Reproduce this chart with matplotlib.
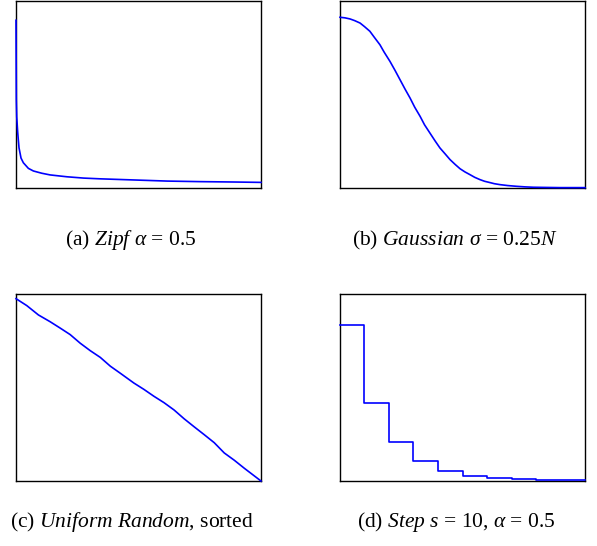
import matplotlib
matplotlib.use('Agg')
import matplotlib.pyplot as plt

plt.rcParams['font.family'] = ['Liberation Serif', 'DejaVu Serif']
plt.rcParams['mathtext.fontset'] = 'custom'
plt.rcParams['mathtext.rm'] = 'Liberation Serif'
plt.rcParams['mathtext.it'] = 'Liberation Serif:italic'

# values, both axes scaled to 0..1
zipf_x = [0, 0.0014, 0.003, 0.0068, 0.0095, 0.0123, 0.016, 0.0205, 0.030,
          0.0505, 0.071, 0.105, 0.139, 0.18, 0.208, 0.276, 0.344, 0.481,
          0.617, 0.754, 0.891, 1.0]
zipf_y = [0.897, 0.472, 0.38, 0.30, 0.257, 0.215, 0.19, 0.16, 0.135,
          0.105, 0.091, 0.079, 0.070, 0.064, 0.060, 0.053, 0.049, 0.043,
          0.037, 0.034, 0.032, 0.030]

gauss_x = [0, 0.02, 0.041, 0.06, 0.082, 0.10, 0.122, 0.14, 0.163, 0.18,
           0.204, 0.225, 0.245, 0.265, 0.286, 0.305, 0.327, 0.345, 0.367,
           0.388, 0.408, 0.43, 0.449, 0.47, 0.490, 0.51, 0.531, 0.55, 0.571,
           0.59, 0.612, 0.63, 0.653, 0.685, 0.721, 0.755, 0.789, 0.84, 0.898,
           1.0]
gauss_y = [0.913, 0.910, 0.904, 0.895, 0.882, 0.863, 0.838, 0.806, 0.766,
           0.727, 0.677, 0.628, 0.579, 0.530, 0.481, 0.432, 0.383, 0.338,
           0.294, 0.252, 0.214, 0.181, 0.152, 0.126, 0.103, 0.086, 0.071,
           0.057, 0.045, 0.036, 0.029, 0.023, 0.018, 0.013, 0.009, 0.006,
           0.004, 0.003, 0.002, 0.002]

unif_x = [0, 0.044, 0.0915, 0.139, 0.180, 0.221, 0.262, 0.303, 0.344, 0.385,
          0.426, 0.481, 0.522, 0.563, 0.604, 0.645, 0.686, 0.727, 0.768,
          0.809, 0.850, 0.891, 0.932, 1.0]
unif_y = [0.975, 0.938, 0.888, 0.852, 0.818, 0.783, 0.737, 0.697, 0.661,
          0.614, 0.576, 0.524, 0.490, 0.453, 0.419, 0.380, 0.333, 0.290,
          0.248, 0.205, 0.150, 0.111, 0.068, 0.0]

step_x = [0, 0.1, 0.2, 0.3, 0.4, 0.5, 0.6, 0.7, 0.8, 0.9, 1.0]
step_y = [0.834, 0.419, 0.210, 0.105, 0.055, 0.028, 0.014, 0.009, 0.005,
          0.004, 0.004]

captions = [r'(a) $\mathit{Zipf}$ $\alpha$ = 0.5',
            r'(b) $\mathit{Gaussian}$ $\sigma$ = 0.25$N$',
            r'(c) $\mathit{Uniform\ Random}$, sorted',
            r'(d) $\mathit{Step}$ $s$ = 10, $\alpha$ = 0.5']

W, H = 597, 546
fig = plt.figure(figsize=(W / 100, H / 100), dpi=100)

boxes = [(16, 1), (340, 1), (16, 294), (340, 294)]  # left, top in px
axs = []
for left, top in boxes:
    ax = fig.add_axes([left / W, 1 - (top + 187) / H, 245 / W, 187 / H])
    ax.set_xlim(0, 1)
    ax.set_ylim(0, 1)
    ax.set_xticks([])
    ax.set_yticks([])
    for s in ax.spines.values():
        s.set_linewidth(1.0)
    axs.append(ax)

lc = '#0000ff'
kw = dict(color=lc, lw=1.2, zorder=3, clip_on=False)
axs[0].plot(zipf_x, zipf_y, **kw)
axs[1].plot(gauss_x, gauss_y, **kw)
axs[2].plot(unif_x, unif_y, **kw)
axs[3].step(step_x, step_y, where='post', **kw)

cap_pos = [(131, 240), (455, 240), (132, 522), (456, 522)]
for (cx, cy), txt in zip(cap_pos, captions):
    fig.text(cx / W, 1 - cy / H, txt, ha='center', va='center', fontsize=15.5)

fig.savefig('out.png', dpi=100)
